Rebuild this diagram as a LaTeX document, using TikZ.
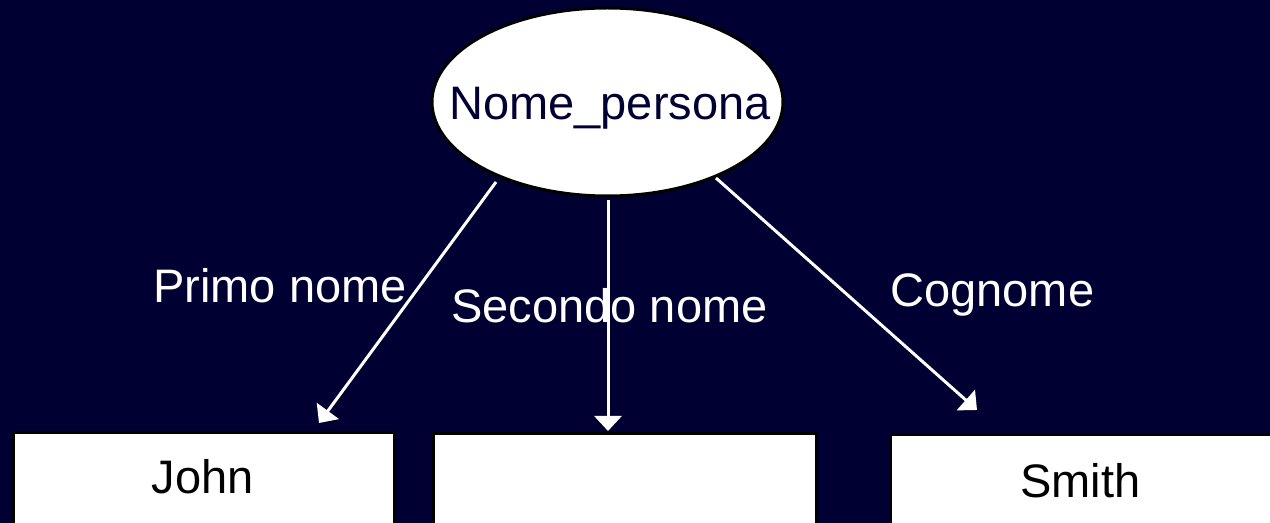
\documentclass[tikz,border=0pt]{standalone}
\usepackage{fontspec}
\setmainfont{Liberation Sans}
\usetikzlibrary{shapes.geometric,arrows.meta}
\definecolor{bg}{RGB}{0,0,51}
\definecolor{navytext}{RGB}{0,0,51}
\begin{document}
\begin{tikzpicture}[x=0.5pt,y=-0.5pt,
  bigfont/.style={font=\fontsize{23.5}{28}\selectfont},
  lbl/.style={bigfont,text=white,inner sep=0pt,anchor=base west},
  valbox/.style={draw=black,line width=1.5pt,fill=white,
    minimum height=55pt,inner sep=0pt,anchor=north west},
  valtext/.style={bigfont,text=black,inner sep=0pt,anchor=base},
  attr/.style={ellipse,draw=black,line width=1.5pt,fill=white,
    minimum width=175.5pt,minimum height=94pt,inner sep=0pt},
  attrtext/.style={bigfont,text=navytext,inner sep=0pt,anchor=base},
  conn/.style={draw=white,line width=1.5pt,-{Triangle[length=7.5pt,width=13.5pt]}}]
\useasboundingbox (0,0) rectangle (1270,523);
\clip (0,0) rectangle (1270,523);
\fill[bg] (0,0) rectangle (1270,523);

\node[attr] (ell) at (607.5,102) {};
\node[attrtext] (elltext) at (610,120) {Nome\_persona};

\node[valbox,minimum width=190.5pt] (john) at (12,431) {};
\node[valtext] (johntext) at (202.5,494) {John};
\node[valbox,minimum width=191.5pt] (mid) at (432,432) {};
\node[valbox,minimum width=191.5pt] (smith) at (889,433) {};
\node[valtext] (smithtext) at (1080.5,498) {Smith};

\coordinate (s1) at (496,182);
\coordinate (e1) at (319,423);
\coordinate (s2) at (608,200);
\coordinate (e2) at (608,431);
\coordinate (s3) at (716,178);
\coordinate (e3) at (977,410);

\draw[conn] (s1) -- (e1);
\draw[conn] (s2) -- (e2);
\draw[conn] (s3) -- (e3);

\node[lbl] (l1) at (153,303) {Primo nome};
\node[lbl] (l2) at (451,323) {Secondo nome};
\node[lbl] (l3) at (890,307) {Cognome};
\end{tikzpicture}
\end{document}
